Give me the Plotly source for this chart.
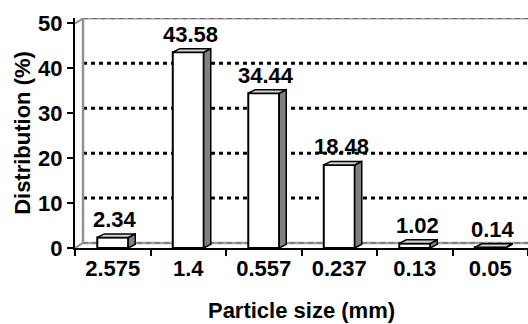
import plotly.graph_objects as go

categories = ["2.575", "1.4", "0.557", "0.237", "0.13", "0.05"]
values = [2.34, 43.58, 34.44, 18.48, 1.02, 0.14]
labels = ["2.34", "43.58", "34.44", "18.48", "1.02", "0.14"]
y_ticks = [0, 10, 20, 30, 40, 50]
grid_vals = [10, 20, 30, 40]

FONT = "Liberation Sans, Arial, sans-serif"
FS = 22
xs = list(range(len(categories)))

# geometry in data units
W = 0.41          # bar front width
DXB, DYB = 0.093, 0.8   # bar depth
DXW, DYW = 0.106, 1.12  # back wall offset
X0, X1 = -0.5, 5.5
YTOP = 51.2

fig = go.Figure()

fig.add_trace(go.Bar(
    x=xs, y=values, width=W,
    marker=dict(color="white", line=dict(color="black", width=2)),
    hoverinfo="skip", showlegend=False,
))

sx, sy = [], []
tx, ty = [], []
for x, v in zip(xs, values):
    r = x + W / 2
    l = x - W / 2
    sx += [r, r + DXB, r + DXB, r, r, None]
    sy += [0, DYB, v + DYB, v, 0, None]
    tx += [l, r, r + DXB, l + DXB, l, None]
    ty += [v, v, v + DYB, v + DYB, v, None]
fig.add_trace(go.Scatter(x=sx, y=sy, mode="lines", fill="toself",
                         fillcolor="#808080", line=dict(color="black", width=1.5),
                         hoverinfo="skip", showlegend=False))
fig.add_trace(go.Scatter(x=tx, y=ty, mode="lines", fill="toself",
                         fillcolor="#d4d4d4", line=dict(color="black", width=1.5),
                         hoverinfo="skip", showlegend=False))

shapes = []
for g in grid_vals:
    shapes.append(dict(type="line", xref="x", yref="y", layer="below",
                       x0=X0 + DXW, x1=X1, y0=g + DYW, y1=g + DYW,
                       line=dict(color="black", width=3, dash="4px,4px")))
for yy in [y_ticks[-1] + DYW, DYW]:
    shapes.append(dict(type="line", xref="x", yref="y", layer="below",
                       x0=X0 + DXW, x1=X1, y0=yy, y1=yy,
                       line=dict(color="#a0a0a0", width=2.5)))
    shapes.append(dict(type="line", xref="x", yref="y", layer="below",
                       x0=X0 + DXW, x1=X1, y0=yy, y1=yy,
                       line=dict(color="#606060", width=1, dash="5px,4px")))
shapes.append(dict(type="line", xref="x", yref="y", layer="below",
                   x0=X0 + DXW, x1=X0 + DXW, y0=DYW, y1=y_ticks[-1] + DYW,
                   line=dict(color="#909090", width=2.5)))
for yy in [0, y_ticks[-1]]:
    shapes.append(dict(type="line", xref="x", yref="y", layer="below",
                       x0=X0, x1=X0 + DXW, y0=yy, y1=yy + DYW,
                       line=dict(color="#909090", width=2)))

annotations = []
for x, v, t in zip(xs, values, labels):
    annotations.append(dict(x=x + 0.03, y=v + DYB, xref="x", yref="y",
                            text=f"<b>{t}</b>", showarrow=False, yanchor="bottom",
                            yshift=0,
                            font=dict(family=FONT, size=FS, color="black")))

fig.update_layout(
    width=528, height=324,
    margin=dict(l=75, r=0, t=18, b=76),
    paper_bgcolor="white", plot_bgcolor="white",
    shapes=shapes, annotations=annotations,
    font=dict(family=FONT, size=FS, color="black"),
    xaxis=dict(
        range=[X0, X1], tickvals=xs, ticktext=[f"<b>{c}</b>" for c in categories],
        ticks="", showgrid=False, zeroline=False,
        showline=True, linecolor="black", linewidth=2,
        tickfont=dict(family=FONT, size=FS, color="black"),
        minor=dict(tickvals=[i - 0.5 for i in range(len(categories) + 1)],
                   ticks="outside", ticklen=6, tickwidth=2, tickcolor="black",
                   showgrid=False),
        title=dict(text="<b>Particle size (mm)</b>",
                   font=dict(family=FONT, size=FS, color="black"), standoff=22),
    ),
    yaxis=dict(
        range=[0, YTOP], tickvals=y_ticks, ticktext=[f"<b>{t}</b>" for t in y_ticks],
        ticks="outside", ticklen=6,
        tickwidth=2, tickcolor="black", showgrid=False, zeroline=False,
        showline=True, linecolor="black", linewidth=2,
        tickfont=dict(family=FONT, size=FS, color="black"),
        title=dict(text="<b>Distribution (%)</b>",
                   font=dict(family=FONT, size=FS, color="black"), standoff=1),
    ),
)

fig.write_html("out.html")
